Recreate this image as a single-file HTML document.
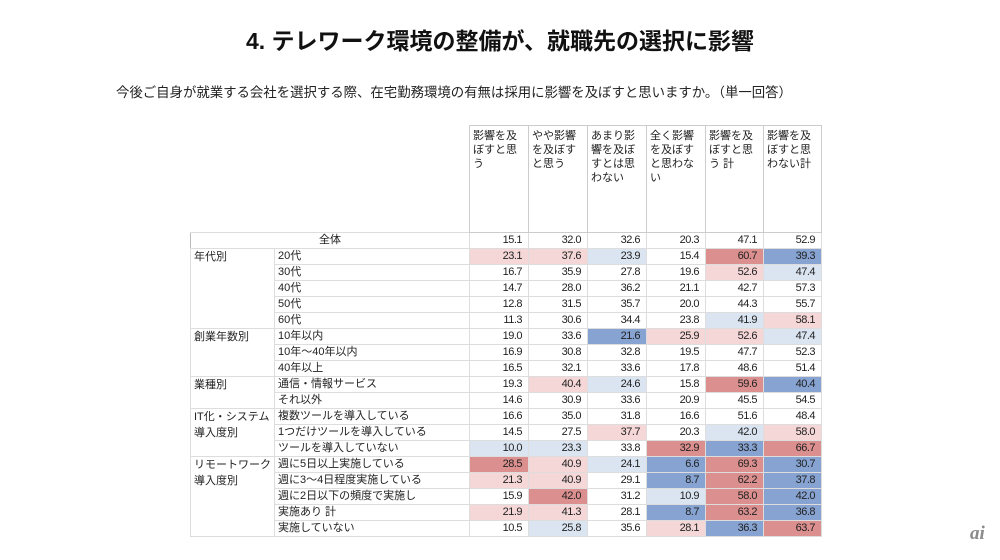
<!DOCTYPE html>
<html><head><meta charset="utf-8">
<style>
body{margin:0;background:#fff;width:1000px;height:560px;position:relative;overflow:hidden;font-family:"Liberation Sans","Noto Sans CJK JP",sans-serif;color:#222}
.t{position:absolute;left:0;width:1000px;top:22px;text-align:center;font-size:23px;font-weight:bold;color:#111}
.s{position:absolute;left:116px;top:81px;font-size:13.4px;color:#222}
table{position:absolute;left:190px;top:125px;border-collapse:collapse;font-size:11px;table-layout:fixed}
td{padding:0 3px;height:15px;line-height:15px;border:1px solid #ddd;white-space:nowrap;overflow:hidden}
td.n{text-align:right;padding-right:6px;letter-spacing:-0.5px}
th{font-weight:normal;text-align:left;vertical-align:top;font-size:11px;line-height:14px;padding:3px 3px;border:1px solid #ccc;height:100px;white-space:normal}
.e{border:none}
.g td{border-top:1px solid #aaa}
.lr{background:#f5d7d7}.sr{background:#dc8f8f}.lb{background:#dbe5f2}.sb{background:#86a3d2}
.gl{vertical-align:top;line-height:16px}
.logo{position:absolute;left:970px;top:523px;font-size:19px;font-style:italic;font-weight:bold;color:#8a8a8a;font-family:"Liberation Serif",serif}
</style></head><body>
<div class="t">4. テレワーク環境の整備が、就職先の選択に影響</div>
<div class="s">今後ご自身が就業する会社を選択する際、在宅勤務環境の有無は採用に影響を及ぼすと思いますか。（単一回答）</div>
<table>
<colgroup><col style="width:82px"><col style="width:195px"><col style="width:59px"><col style="width:59px"><col style="width:59px"><col style="width:59px"><col style="width:58px"><col style="width:58px"></colgroup>
<tr><td class="e"></td><td class="e"></td><th>影響を及ぼすと思う</th><th>やや影響を及ぼすと思う</th><th>あまり影響を及ぼすとは思わない</th><th>全く影響を及ぼすと思わない</th><th>影響を及ぼすと思う 計</th><th>影響を及ぼすと思わない計</th></tr>
<tr><td colspan="2" style="text-align:center;border-left:1px solid #bbb">全体</td><td class="n">15.1</td><td class="n">32.0</td><td class="n">32.6</td><td class="n">20.3</td><td class="n">47.1</td><td class="n">52.9</td></tr>
<tr class="g"><td rowspan="5" class="gl">年代別</td><td>20代</td><td class="n lr">23.1</td><td class="n lr">37.6</td><td class="n lb">23.9</td><td class="n">15.4</td><td class="n sr">60.7</td><td class="n sb">39.3</td></tr>
<tr><td>30代</td><td class="n">16.7</td><td class="n">35.9</td><td class="n">27.8</td><td class="n">19.6</td><td class="n lr">52.6</td><td class="n lb">47.4</td></tr>
<tr><td>40代</td><td class="n">14.7</td><td class="n">28.0</td><td class="n">36.2</td><td class="n">21.1</td><td class="n">42.7</td><td class="n">57.3</td></tr>
<tr><td>50代</td><td class="n">12.8</td><td class="n">31.5</td><td class="n">35.7</td><td class="n">20.0</td><td class="n">44.3</td><td class="n">55.7</td></tr>
<tr><td>60代</td><td class="n">11.3</td><td class="n">30.6</td><td class="n">34.4</td><td class="n">23.8</td><td class="n lb">41.9</td><td class="n lr">58.1</td></tr>
<tr class="g"><td rowspan="3" class="gl">創業年数別</td><td>10年以内</td><td class="n">19.0</td><td class="n">33.6</td><td class="n sb">21.6</td><td class="n lr">25.9</td><td class="n lr">52.6</td><td class="n lb">47.4</td></tr>
<tr><td>10年～40年以内</td><td class="n">16.9</td><td class="n">30.8</td><td class="n">32.8</td><td class="n">19.5</td><td class="n">47.7</td><td class="n">52.3</td></tr>
<tr><td>40年以上</td><td class="n">16.5</td><td class="n">32.1</td><td class="n">33.6</td><td class="n">17.8</td><td class="n">48.6</td><td class="n">51.4</td></tr>
<tr class="g"><td rowspan="2" class="gl">業種別</td><td>通信・情報サービス</td><td class="n">19.3</td><td class="n lr">40.4</td><td class="n lb">24.6</td><td class="n">15.8</td><td class="n sr">59.6</td><td class="n sb">40.4</td></tr>
<tr><td>それ以外</td><td class="n">14.6</td><td class="n">30.9</td><td class="n">33.6</td><td class="n">20.9</td><td class="n">45.5</td><td class="n">54.5</td></tr>
<tr class="g"><td rowspan="3" class="gl">IT化・システム<br>導入度別</td><td>複数ツールを導入している</td><td class="n">16.6</td><td class="n">35.0</td><td class="n">31.8</td><td class="n">16.6</td><td class="n">51.6</td><td class="n">48.4</td></tr>
<tr><td>1つだけツールを導入している</td><td class="n">14.5</td><td class="n">27.5</td><td class="n lr">37.7</td><td class="n">20.3</td><td class="n lb">42.0</td><td class="n lr">58.0</td></tr>
<tr><td>ツールを導入していない</td><td class="n lb">10.0</td><td class="n lb">23.3</td><td class="n">33.8</td><td class="n sr">32.9</td><td class="n sb">33.3</td><td class="n sr">66.7</td></tr>
<tr class="g"><td rowspan="5" class="gl">リモートワーク<br>導入度別</td><td>週に5日以上実施している</td><td class="n sr">28.5</td><td class="n lr">40.9</td><td class="n lb">24.1</td><td class="n sb">6.6</td><td class="n sr">69.3</td><td class="n sb">30.7</td></tr>
<tr><td>週に3～4日程度実施している</td><td class="n lr">21.3</td><td class="n lr">40.9</td><td class="n">29.1</td><td class="n sb">8.7</td><td class="n sr">62.2</td><td class="n sb">37.8</td></tr>
<tr><td>週に2日以下の頻度で実施し</td><td class="n">15.9</td><td class="n sr">42.0</td><td class="n">31.2</td><td class="n lb">10.9</td><td class="n sr">58.0</td><td class="n sb">42.0</td></tr>
<tr><td>実施あり 計</td><td class="n lr">21.9</td><td class="n lr">41.3</td><td class="n">28.1</td><td class="n sb">8.7</td><td class="n sr">63.2</td><td class="n sb">36.8</td></tr>
<tr><td>実施していない</td><td class="n">10.5</td><td class="n lb">25.8</td><td class="n">35.6</td><td class="n lr">28.1</td><td class="n sb">36.3</td><td class="n sr">63.7</td></tr>
</table>
<div class="logo">ai</div>
</body></html>
